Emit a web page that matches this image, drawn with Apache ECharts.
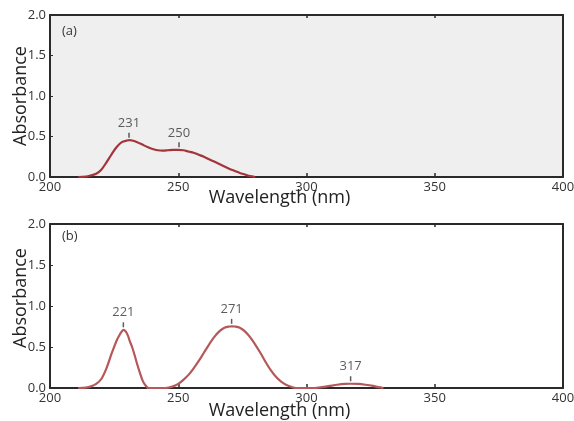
<!DOCTYPE html>
<html><head><meta charset="utf-8">
<script src="https://cdn.jsdelivr.net/npm/echarts@6/dist/echarts.min.js"></script>
<style>html,body{margin:0;padding:0;background:#fff}#c{width:574px;height:421px}</style>
</head><body><div id="c"></div>
<script>
// Panel (a) spectrum: [wavelength nm, absorbance]
const spectrumA = [[211,0],[214,0.005],[216,0.02],[218,0.04],[220,0.09],[222,0.18],[224,0.28],[226,0.37],[228,0.43],[230,0.45],[231,0.455],[232,0.45],[234,0.43],[236,0.40],[238,0.37],[240,0.345],[242,0.33],[244,0.325],[246,0.33],[248,0.335],[250,0.335],[252,0.33],[254,0.315],[256,0.30],[258,0.275],[260,0.25],[262,0.22],[264,0.19],[266,0.16],[268,0.13],[270,0.10],[272,0.075],[274,0.05],[276,0.03],[278,0.01],[280,0]];
// Panel (b) spectrum
const spectrumB = [[211,0],[214,0.005],[216,0.02],[218,0.05],[220,0.11],[222,0.24],[224,0.42],[225,0.5],[226,0.58],[227,0.64],[228,0.69],[228.6,0.71],[229.5,0.69],[230.5,0.63],[231,0.58],[232,0.5],[233,0.4],[234,0.29],[235,0.19],[236,0.1],[237,0.04],[238,0.005],[238.5,0],
  [245,0],[248,0.02],[250,0.05],[252,0.1],[254,0.16],[256,0.24],[258,0.33],[260,0.43],[262,0.53],[264,0.62],[266,0.69],[268,0.735],[270,0.75],[271,0.752],[272,0.75],[274,0.735],[276,0.69],[278,0.62],[280,0.53],[282,0.43],[284,0.32],[286,0.22],[288,0.14],[290,0.08],[292,0.04],[294,0.015],[296,0],
  [300,0],[303,0],[306,0.01],[309,0.025],[312,0.04],[315,0.05],[317,0.052],[320,0.05],[323,0.04],[326,0.025],[328,0.01],[330,0]];
// Peak annotations
const peakXA = [230.8, 250.3];
const peakYA = [0.455, 0.335];
const peakLabelsA = ['231', '250'];
const peakXB = [228.6, 270.8, 317.2];
const peakYB = [0.71, 0.752, 0.052];
const peakLabelsB = ['221', '271', '317'];
const xTicks = [200, 250, 300, 350, 400];
const yTicks = [0.0, 0.5, 1.0, 1.5, 2.0];
const panelLabels = ['(a)', '(b)'];

const FONT = 'Open Sans';
const chart = echarts.init(document.getElementById('c'), null, {renderer: 'canvas'});

function xAx(gi, gap) {
  return [{
    type: 'value', gridIndex: gi, min: xTicks[0], max: xTicks[xTicks.length-1], interval: 50,
    axisLine: {show: true, onZero: false, lineStyle: {color: '#2a2a2a', width: 2}},
    axisTick: {show: true, inside: true, length: 4, lineStyle: {color: '#2a2a2a', width: 1.5}},
    axisLabel: {show: true, margin: 4, color: '#333', fontFamily: FONT, fontSize: 13},
    splitLine: {show: false},
    name: 'Wavelength (nm)', nameLocation: 'middle', nameGap: gap, nameMoveOverlap: false,
    nameTextStyle: {color: '#222', fontFamily: FONT, fontSize: 18, padding: [0, 54, 0, 0]}
  }, {
    type: 'value', gridIndex: gi, position: 'top', min: xTicks[0], max: xTicks[xTicks.length-1], interval: 50,
    axisLine: {show: true, onZero: false, lineStyle: {color: '#2a2a2a', width: 2}},
    axisTick: {show: true, inside: true, length: 3, lineStyle: {color: '#2a2a2a', width: 1.5}},
    axisLabel: {show: false}, splitLine: {show: false}
  }];
}
function yAx(gi, pad) {
  return [{
    type: 'value', gridIndex: gi, min: 0, max: 2, interval: 0.5,
    axisLine: {show: true, onZero: false, lineStyle: {color: '#2a2a2a', width: 2}},
    axisTick: {show: true, inside: true, length: 3, lineStyle: {color: '#2a2a2a', width: 1}},
    axisLabel: {show: true, margin: 4, color: '#333', fontFamily: FONT, fontSize: 13,
      formatter: v => v.toFixed(1)},
    splitLine: {show: false},
    name: 'Absorbance', nameLocation: 'middle', nameGap: 20, nameMoveOverlap: false,
    nameTextStyle: {color: '#222', fontFamily: FONT, fontSize: 18, padding: pad}
  }, {
    type: 'value', gridIndex: gi, position: 'right', min: 0, max: 2, interval: 0.5,
    axisLine: {show: true, onZero: false, lineStyle: {color: '#2a2a2a', width: 2}},
    axisTick: {show: false}, axisLabel: {show: false}, splitLine: {show: false}
  }];
}
function peaks(xs, ys, labels, xi, yi) {
  return {
    type: 'scatter', xAxisIndex: xi, yAxisIndex: yi, silent: true,
    symbol: 'rect', symbolSize: [1.5, 5], symbolOffset: [0, -5],
    itemStyle: {color: '#333'},
    data: xs.map((x, i) => ({value: [x, ys[i]], label: {formatter: labels[i]}})),
    label: {show: true, position: 'top', distance: 3, color: '#333', fontFamily: FONT, fontSize: 13}
  };
}

chart.setOption({
  animation: false,
  backgroundColor: '#fff',
  grid: [
    {left: 50, top: 15, width: 513, height: 162, show: true, backgroundColor: '#efefef', borderWidth: 0, outerBoundsMode: 'none', containLabel: false},
    {left: 50, top: 224, width: 513, height: 164, show: true, backgroundColor: '#fff', borderWidth: 0, outerBoundsMode: 'none', containLabel: false}
  ],
  xAxis: [...xAx(0, 12), ...xAx(1, 14)],
  yAxis: [...yAx(0, [0,0,0,0]), ...yAx(1, [0,0,0,16])],
  series: [
    {type: 'line', xAxisIndex: 0, yAxisIndex: 0, data: spectrumA, smooth: 0.3, symbol: 'none',
      lineStyle: {color: '#a3343a', width: 2.2}},
    {type: 'line', xAxisIndex: 2, yAxisIndex: 2, data: spectrumB, smooth: 0.3, symbol: 'none',
      lineStyle: {color: '#b5585a', width: 2.2}},
    peaks(peakXA, peakYA, peakLabelsA, 0, 0),
    peaks(peakXB, peakYB, peakLabelsB, 2, 2)
  ],
  graphic: [
    {type: 'text', left: 62, top: 25, style: {text: panelLabels[0], font: '13px "Open Sans"', fill: '#333'}},
    {type: 'text', left: 62, top: 230, style: {text: panelLabels[1], font: '13px "Open Sans"', fill: '#333'}}
  ]
});
</script></body></html>
